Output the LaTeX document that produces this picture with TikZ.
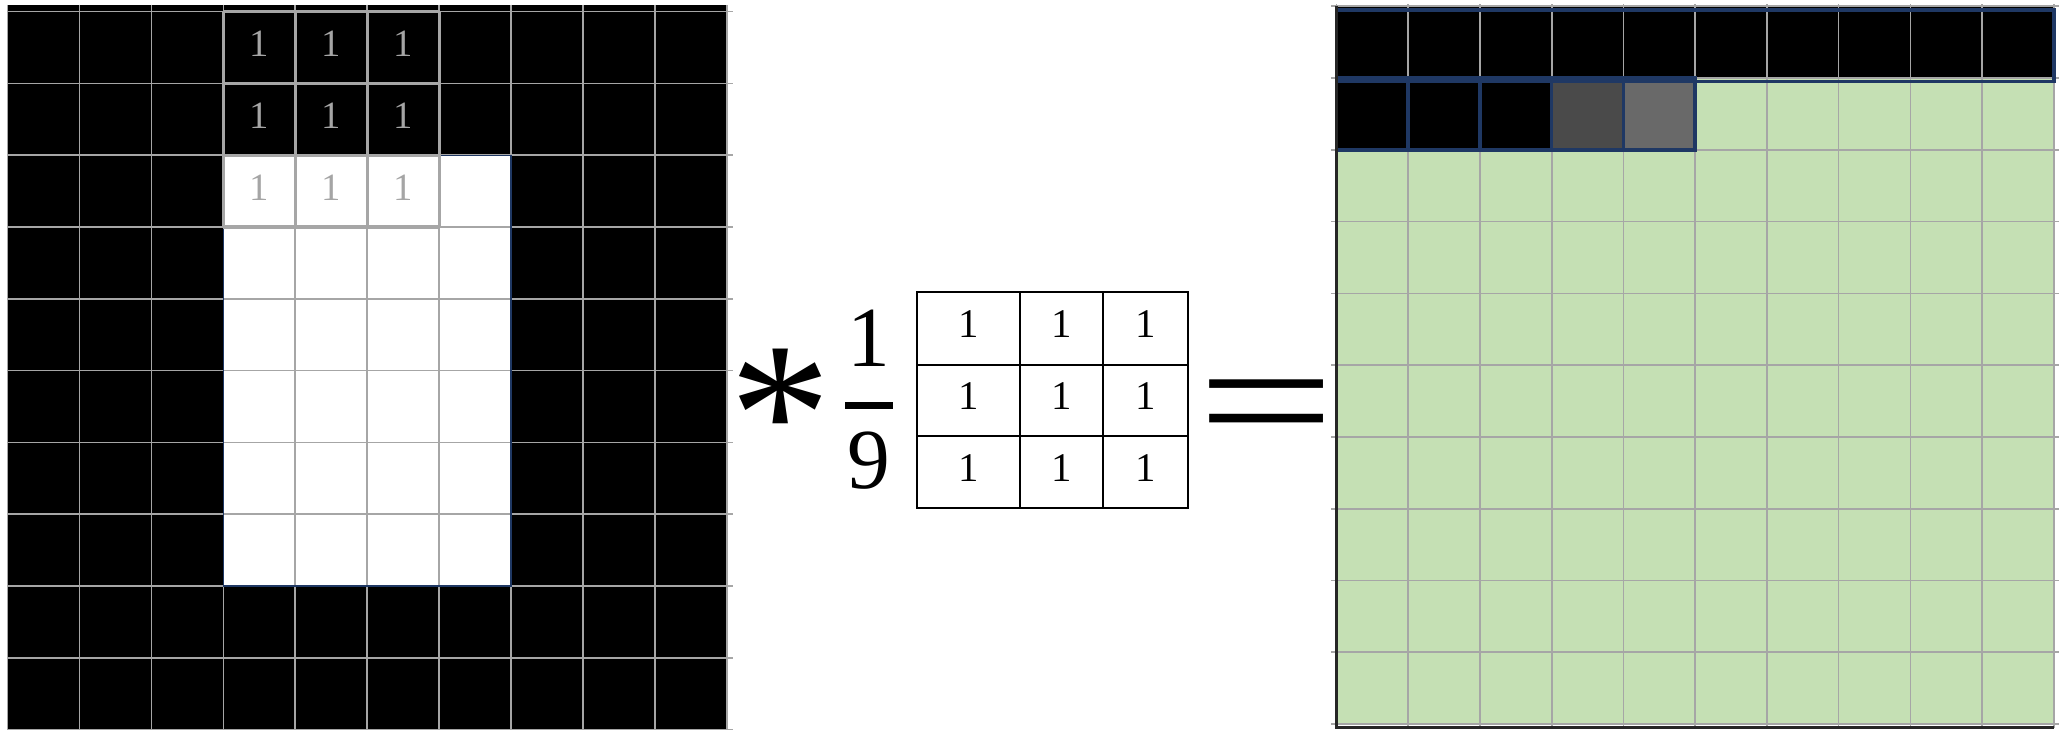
\documentclass[tikz,border=0pt]{standalone}
\usepackage{fontspec}
\setmainfont{Liberation Serif}
\usepackage{xcolor}
\usepackage{tikz}
\usetikzlibrary{positioning}

\definecolor{gridgray}{HTML}{A6A6A6}
\definecolor{cellgreen}{HTML}{C5E0B4}
\definecolor{edgeblue}{HTML}{1F3864}
\definecolor{darkcell}{HTML}{4A4A4A}
\definecolor{midcell}{HTML}{696969}
\definecolor{numgray}{HTML}{A5A5A5}

\begin{document}
\begin{tikzpicture}[x=0.02cm, y=-0.02cm,
    gridline/.style={draw=gridgray, line width=0.9pt},
    windowline/.style={draw=gridgray, line width=1.8pt},
    kernline/.style={draw=black, line width=1.6pt},
    cellframe/.style={draw=edgeblue, line width=2pt},
    winnum/.style={font=\fontsize{22}{22}\selectfont, text=numgray, inner sep=0pt},
    kernnum/.style={font=\fontsize{23.2}{23.2}\selectfont, inner sep=0pt},
    bigsym/.style={inner sep=0pt, anchor=base}]
  \useasboundingbox (0,0) rectangle (2059,731);

  % Input image
  \begin{scope}[shift={(7.5,11.7)}, x=1.439cm, y=-1.436cm]
    \fill[black] (0,-0.1) rectangle (10,10);
    \fill[white] (3,2) rectangle (7,8);
    \foreach \i in {0,...,10} {
      \draw[gridline] (\i,-0.1) -- (\i,10);
      \draw[gridline] (0,\i) -- (10.08,\i);
    }
    \draw[edgeblue, line width=0.7pt] (3,2) rectangle (7,8);
    % sliding window
    \foreach \i in {0,...,3} {
      \draw[windowline] (3+\i,0) -- (3+\i,3);
      \draw[windowline] (3,\i) -- (6,\i);
    }
    \foreach \c in {3,4,5} \foreach \r in {0,1,2}
      \node[winnum] (w-\c-\r) at (\c+0.5,\r+0.45) {1};
  \end{scope}

  % Convolution sign and 1/9
  \node[bigsym, font=\fontsize{116}{116}\selectfont] (conv) at (780,482) {*};
  \node[bigsym, font=\fontsize{48.7}{48.7}\selectfont] (num) at (869,366) {1};
  \node[bigsym, font=\fontsize{48.7}{48.7}\selectfont] (den) at (869,488) {9};
  \coordinate (barl) at (845,405.5);
  \coordinate (barr) at (893,405.5);
  \draw[line width=3.8pt] (barl) -- (barr);

  % Averaging kernel
  \draw[kernline] (917,292) rectangle (1188,508);
  \foreach \x in {1020,1103} \draw[kernline] (\x,292) -- (\x,508);
  \foreach \y in {365,436} \draw[kernline] (917,\y) -- (1188,\y);
  \foreach \x/\c in {968.5/0,1061.5/1,1145.5/2}
    \foreach \y/\r in {324.5/0,396.5/1,468.5/2}
      \node[kernnum] (k-\c-\r) at (\x,\y) {1};

  % Equals
  \begin{scope}[shift={(1266,458)}, xscale=1.42]
    \node[bigsym, transform shape, font=\fontsize{98}{98}\selectfont] (eq) at (0,0) {=};
  \end{scope}

  % Output image
  \begin{scope}[shift={(1336.5,6.2)}, x=1.435cm, y=-1.436cm]
    \fill[cellgreen] (0,0) rectangle (10,10);
    \fill[black] (0,0) rectangle (10,1);
    \fill[black] (0,1) rectangle (3,2);
    \fill[darkcell] (3,1) rectangle (4,2);
    \fill[midcell] (4,1) rectangle (5,2);
    \foreach \i in {0,...,10} {
      \draw[gridline] (\i,-0.03) -- (\i,10.05);
      \draw[gridline] (-0.08,\i) -- (10.08,\i);
    }
    \draw[cellframe] (0,0.05) rectangle (10,1.05);
    \foreach \c in {0,...,4} \draw[cellframe] (\c,1) rectangle (\c+1,2);
    \draw[black!85, line width=1.4pt] (0,0) -- (0,10.05) -- (10,10.05);
  \end{scope}
\end{tikzpicture}
\end{document}
